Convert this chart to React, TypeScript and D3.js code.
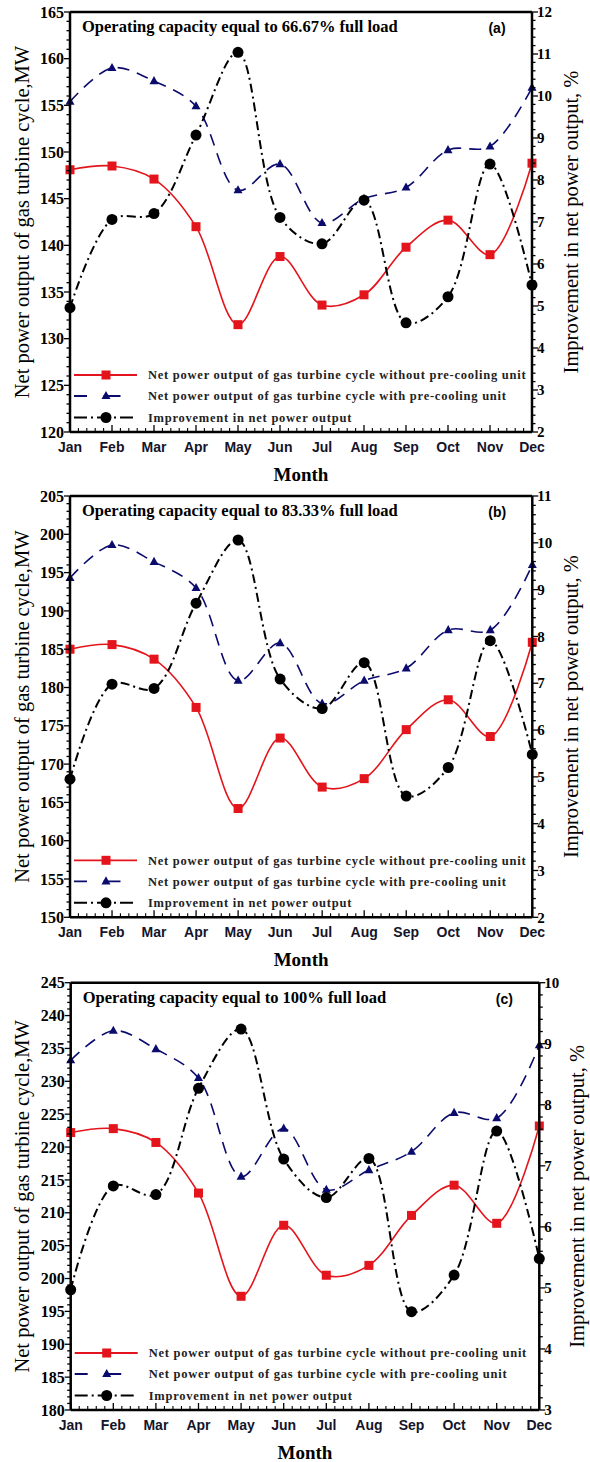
import React from "react";
import * as d3 from "d3";

const months = ["Jan", "Feb", "Mar", "Apr", "May", "Jun", "Jul", "Aug", "Sep", "Oct", "Nov", "Dec"];

const withoutA = [148.1, 148.5, 147.1, 142.0, 131.5, 138.8, 133.6, 134.7, 139.8, 142.7, 139.0, 148.8];
const withA = [155.4, 159.0, 157.6, 154.9, 145.9, 148.7, 142.4, 145.0, 146.2, 150.2, 150.6, 156.9];
const improveA = [4.96, 7.06, 7.2, 9.07, 11.04, 7.11, 6.48, 7.52, 4.6, 5.22, 8.38, 5.5];

const withoutB = [185.0, 185.6, 183.7, 177.4, 164.2, 173.4, 167.0, 168.1, 174.5, 178.4, 173.6, 185.9];
const withB = [194.3, 198.6, 196.4, 193.0, 180.9, 185.8, 177.9, 180.9, 182.5, 187.5, 187.5, 196.0];
const improveB = [4.95, 6.98, 6.89, 8.71, 10.06, 7.09, 6.46, 7.44, 4.59, 5.2, 7.91, 5.48];

const withoutC = [222.2, 222.8, 220.7, 213.0, 197.3, 208.1, 200.5, 202.0, 209.6, 214.2, 208.4, 223.2];
const withC = [233.2, 237.7, 234.9, 230.5, 215.5, 222.8, 213.5, 216.5, 219.3, 225.2, 224.4, 235.5];
const improveC = [4.97, 6.67, 6.53, 8.27, 9.24, 7.11, 6.48, 7.12, 4.61, 5.21, 7.57, 5.48];

const titles = [
  "Operating capacity equal to 66.67% full load",
  "Operating capacity equal to 83.33% full load",
  "Operating capacity equal to 100% full load",
];
const panelLabels = ["(a)", "(b)", "(c)"];
const leftDomains: [number, number][] = [[120, 165], [150, 205], [180, 245]];
const rightDomains: [number, number][] = [[2, 12], [2, 11], [3, 10]];

const legendLabels = [
  "Net power output of gas turbine cycle without pre-cooling unit",
  "Net power output of gas turbine cycle with pre-cooling unit",
  "Improvement in net power output",
];

const SERIF = "'Liberation Serif', 'Times New Roman', serif";
const SANS = "'Liberation Sans', Arial, sans-serif";
const RED = "#e3141b";
const NAVY = "#0b0b6e";

const layouts = [
  { top: 12, bottom: 432, x0: 70, x1: 532, rightTitleX: 571 },
  { top: 496, bottom: 917.3, x0: 70, x1: 532.3, rightTitleX: 571 },
  { top: 982.7, bottom: 1410, x0: 70.7, x1: 539.3, rightTitleX: 577 },
];

const dataSets = [
  { without: withoutA, withP: withA, imp: improveA },
  { without: withoutB, withP: withB, imp: improveB },
  { without: withoutC, withP: withC, imp: improveC },
];

function range(a: number, b: number, step: number) {
  const out: number[] = [];
  for (let v = a; v <= b + 1e-9; v += step) out.push(Math.round(v * 1000) / 1000);
  return out;
}

function Triangle({ x, y, s = 9, fill }: { x: number; y: number; s?: number; fill: string }) {
  const h = s * 0.9;
  return <path d={`M${x},${y - h * 0.62}L${x + s / 2},${y + h * 0.38}L${x - s / 2},${y + h * 0.38}Z`} fill={fill} />;
}

function Panel({ idx }: { idx: number }) {
  const L = layouts[idx];
  const D = dataSets[idx];
  const x = d3.scalePoint<string>().domain(months).range([L.x0, L.x1]);
  const yL = d3.scaleLinear().domain(leftDomains[idx]).range([L.bottom, L.top]);
  const yR = d3.scaleLinear().domain(rightDomains[idx]).range([L.bottom, L.top]);
  const line = (ys: d3.ScaleLinear<number, number>) =>
    d3
      .line<number>()
      .x((_, i) => x(months[i]) as number)
      .y((d) => ys(d))
      .curve(d3.curveCatmullRom.alpha(0.5));

  const [l0, l1] = leftDomains[idx];
  const [r0, r1] = rightDomains[idx];
  const leftMinor = range(l0, l1, 1);
  const leftMajor = range(l0, l1, 5);
  const rightMinor = range(r0, r1, 0.2);
  const rightMajor = range(r0, r1, 1);
  const step = x.step();
  const xMinor: number[] = [];
  months.forEach((m, i) => {
    if (i < months.length - 1) for (let k = 1; k < 5; k++) xMinor.push((x(m) as number) + (step * k) / 5);
  });
  const midY = (L.top + L.bottom) / 2;
  const midX = (L.x0 + L.x1) / 2;
  const lg = [L.bottom - 57, L.bottom - 36, L.bottom - 14.5];

  return (
    <g>
      {/* curves */}
      <path d={line(yL)(D.without) || ""} fill="none" stroke={RED} strokeWidth={1.6} />
      <path d={line(yL)(D.withP) || ""} fill="none" stroke={NAVY} strokeWidth={1.6} strokeDasharray="12,8" />
      <path d={line(yR)(D.imp) || ""} fill="none" stroke="#000" strokeWidth={2} strokeDasharray="9,4,2,4" />
      {D.without.map((v, i) => (
        <rect key={"r" + i} x={(x(months[i]) as number) - 4.5} y={yL(v) - 4.5} width={9} height={9} fill={RED} />
      ))}
      {D.withP.map((v, i) => (
        <Triangle key={"t" + i} x={x(months[i]) as number} y={yL(v)} fill={NAVY} />
      ))}
      {D.imp.map((v, i) => (
        <circle key={"c" + i} cx={x(months[i]) as number} cy={yR(v)} r={5.5} fill="#000" />
      ))}

      {/* frame */}
      <line x1={L.x0} x2={L.x1} y1={L.top} y2={L.top} stroke="#000" strokeWidth={2.5} />
      <line x1={L.x0} x2={L.x0} y1={L.top} y2={L.bottom} stroke="#000" strokeWidth={2.5} />
      <line x1={L.x1} x2={L.x1} y1={L.top} y2={L.bottom} stroke="#000" strokeWidth={2.5} />
      <line x1={L.x0} x2={L.x1} y1={L.bottom} y2={L.bottom} stroke="#000" strokeWidth={2.5} />

      {/* left ticks */}
      {leftMinor.map((v) => (
        <line key={"lm" + v} x1={L.x0} x2={L.x0 - (v % 5 === 0 ? 6 : 3.5)} y1={yL(v)} y2={yL(v)} stroke="#000" strokeWidth={1.3} />
      ))}
      {leftMajor.map((v) => (
        <text key={"lt" + v} x={L.x0 - 6} y={yL(v)} dy="0.35em" textAnchor="end" fontFamily={SERIF} fontWeight="bold" fontSize={16}>
          {v}
        </text>
      ))}
      {/* right ticks */}
      {rightMinor.map((v, i) => (
        <line key={"rm" + i} x1={L.x1} x2={L.x1 + (i % 5 === 0 ? 6 : 3.5)} y1={yR(v)} y2={yR(v)} stroke="#000" strokeWidth={1.3} />
      ))}
      {rightMajor.map((v) => (
        <text key={"rt" + v} x={L.x1 + 5} y={yR(v)} dy="0.35em" textAnchor="start" fontFamily={SERIF} fontWeight="bold" fontSize={15}>
          {v}
        </text>
      ))}
      {/* x ticks */}
      {xMinor.map((v, i) => (
        <line key={"xm" + i} x1={v} x2={v} y1={L.bottom} y2={L.bottom - 4} stroke="#000" strokeWidth={1.1} />
      ))}
      {months.map((m) => (
        <line key={"xM" + m} x1={x(m) as number} x2={x(m) as number} y1={L.bottom} y2={L.bottom - 7} stroke="#000" strokeWidth={1.3} />
      ))}
      {months.map((m) => (
        <text key={"xl" + m} x={x(m) as number} y={L.bottom + 15} dy="0.35em" textAnchor="middle" fontFamily={SANS} fontWeight="bold" fontSize={14} fill="#14142a">
          {m}
        </text>
      ))}

      {/* axis titles */}
      <text x={midX} y={L.bottom + 42} dy="0.35em" textAnchor="middle" fontFamily={SERIF} fontWeight="bold" fontSize={19}>
        Month
      </text>
      <text transform={`translate(22,${midY}) rotate(-90)`} dy="0.35em" textAnchor="middle" fontFamily={SERIF} fontSize={20.5}>
        Net power output of gas turbine cycle,MW
      </text>
      <text transform={`translate(${L.rightTitleX},${midY}) rotate(-90)`} dy="0.35em" textAnchor="middle" fontFamily={SERIF} fontSize={20.5}>
        Improvement in net power output, %
      </text>

      {/* title */}
      <text x={L.x0 + 12} y={L.top + 20} fontFamily={SERIF} fontWeight="bold" fontSize={16.5}>
        {titles[idx]}
      </text>
      <text x={L.x1 - 35} y={L.top + 21} textAnchor="middle" fontFamily={SANS} fontWeight="bold" fontSize={14}>
        {panelLabels[idx]}
      </text>

      {/* legend */}
      <line x1={L.x0 + 4} x2={L.x0 + 67} y1={lg[0]} y2={lg[0]} stroke={RED} strokeWidth={1.8} />
      <rect x={L.x0 + 31.5} y={lg[0] - 4.5} width={9} height={9} fill={RED} />
      <line x1={L.x0 + 4} x2={L.x0 + 67} y1={lg[1]} y2={lg[1]} stroke={NAVY} strokeWidth={1.8} strokeDasharray="13,16.5,4,0" />
      <Triangle x={L.x0 + 36} y={lg[1]} fill={NAVY} />
      <line x1={L.x0 + 4} x2={L.x0 + 67} y1={lg[2]} y2={lg[2]} stroke="#000" strokeWidth={2} strokeDasharray="13,4,2,4" />
      <circle cx={L.x0 + 36} cy={lg[2]} r={5.5} fill="#000" />
      {legendLabels.map((t, i) => (
        <text key={"lg" + i} x={L.x0 + 78} y={lg[i]} dy="0.35em" fontFamily={SERIF} fontWeight="bold" fontSize={12.5} letterSpacing={0.75} fill="#222">
          {t}
        </text>
      ))}
    </g>
  );
}

export default function App() {
  return (
    <svg width={590} height={1462} style={{ position: "absolute", left: 0, top: 0, background: "#fff" }}>
      <rect width={590} height={1462} fill="#fff" />
      {[0, 1, 2].map((i) => (
        <Panel key={i} idx={i} />
      ))}
    </svg>
  );
}
